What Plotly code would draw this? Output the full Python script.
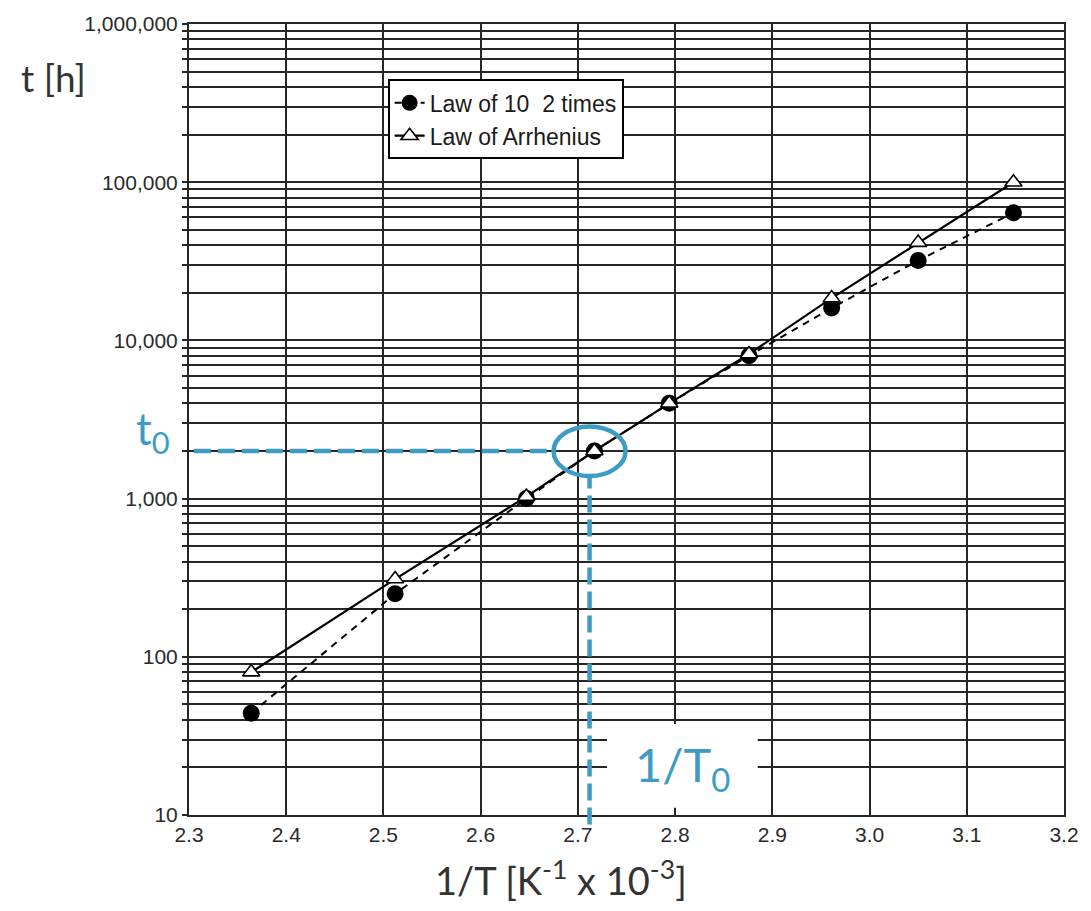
import plotly.graph_objects as go
import numpy as np

# Inverse temperature [1/K x 10^-3]
inv_temp = [2.364, 2.512, 2.647, 2.717, 2.794, 2.876, 2.961, 3.050, 3.148]
# Lifetime t [h] following the "10 degrees / 2 times" rule
law_10_2 = [44, 250, 1000, 2000, 4000, 8000, 16000, 32000, 64000]
# Lifetime t [h] following the Arrhenius law
arrhenius = [80, 310, 1030, 2000, 4000, 8200, 18500, 41500, 100000]

# Reference point highlighted on the chart
t0 = 2000
inv_T0 = 2.712

x_ticks = [2.3, 2.4, 2.5, 2.6, 2.7, 2.8, 2.9, 3.0, 3.1, 3.2]
x_tick_text = ["2.3", "2.4", "2.5", "2.6", "2.7", "2.8", "2.9", "3.0", "3.1", "3.2"]
decades = [10, 100, 1000, 10000, 100000, 1000000]
decade_text = ["10", "100", "1,000", "10,000", "100,000", "1,000,000"]

BLUE = "#3d9cc3"
GRID = "#262626"
TICK_FONT = dict(family="Liberation Sans, Arial, sans-serif", size=21, color="#2a2a2a")
TITLE_FONT = "Lato, 'Open Sans', sans-serif"

fig = go.Figure()

fig.add_trace(go.Scatter(
    x=inv_temp, y=law_10_2, name="Law of 10  2 times",
    mode="lines+markers",
    line=dict(color="black", width=2, dash="7px,6px"),
    marker=dict(symbol="circle", size=17, color="black"),
))
fig.add_trace(go.Scatter(
    x=inv_temp, y=arrhenius, name="Law of Arrhenius",
    mode="lines+markers",
    line=dict(color="black", width=2.2),
    marker=dict(symbol="triangle-up", size=15, color="white",
                line=dict(color="black", width=1.6)),
))

# ellipse around the reference point
ex0, ex1 = inv_T0 - 0.037, inv_T0 + 0.037
ey0, ey1 = t0 / 1.44, t0 * 1.43
shapes = [
    dict(type="circle", xref="x", yref="y", x0=ex0, x1=ex1, y0=ey0, y1=ey1,
         line=dict(color=BLUE, width=4.5), layer="above"),
    # horizontal guide at t0
    dict(type="line", xref="x", yref="y", x0=2.305, x1=ex0, y0=t0, y1=t0,
         line=dict(color=BLUE, width=4.5, dash="17px,7px"), layer="above"),
    # vertical guide at 1/T0, running just past the x axis
    dict(type="line", xref="x", yref="paper", x0=inv_T0, x1=inv_T0,
         y0=-0.012, y1=(np.log10(ey0) - 1) / 5,
         line=dict(color=BLUE, width=4.5, dash="17px,7px"), layer="above"),
    # white panel behind the 1/T0 label
    dict(type="rect", xref="x", yref="y", x0=2.73, x1=2.885, y0=11.1, y1=37.6,
         fillcolor="white", line=dict(width=0), layer="above"),
]

annotations = [
    dict(text="t [h]", xref="paper", yref="paper", x=-0.155, y=0.932,
         xanchor="center", yanchor="middle", showarrow=False,
         font=dict(family=TITLE_FONT, size=37, color="#333333")),
    dict(text="1/T [K<sup>-1</sup> x 10<sup>-3</sup>]", xref="paper", yref="paper",
         x=0.425, y=-0.08, xanchor="center", yanchor="middle", showarrow=False,
         font=dict(family=TITLE_FONT, size=38, color="#333333")),
    dict(text="t<sub>0</sub>", xref="paper", yref="y", x=-0.02, y=np.log10(t0) + 0.12,
         xanchor="right", yanchor="middle", showarrow=False,
         font=dict(family=TITLE_FONT, size=44, color=BLUE)),
    dict(text="1/T<sub>0</sub>", xref="x", yref="y", x=2.808, y=1.3,
         xanchor="center", yanchor="middle", showarrow=False,
         font=dict(family=TITLE_FONT, size=47, color=BLUE)),
]

fig.update_layout(
    width=1091, height=911,
    margin=dict(l=189, r=20, t=15, b=96),
    paper_bgcolor="white", plot_bgcolor="white",
    showlegend=True,
    legend=dict(x=0.227, y=0.93, xanchor="left", yanchor="top",
                bgcolor="white", bordercolor="black", borderwidth=2,
                font=dict(family="Liberation Sans, Arial, sans-serif", size=23, color="#1a1a1a"),
                tracegroupgap=0, itemwidth=30),
    shapes=shapes,
    annotations=annotations,
)

fig.update_xaxes(
    range=[2.3, 3.2], tickvals=x_ticks, ticktext=x_tick_text,
    showgrid=True, gridcolor=GRID, gridwidth=1.8,
    showline=True, linecolor=GRID, linewidth=2, mirror=True,
    ticks="", tickfont=TICK_FONT, zeroline=False,
)
fig.update_yaxes(
    type="log", range=[1, 6], tickvals=decades, ticktext=decade_text,
    showgrid=True, gridcolor=GRID, gridwidth=1.8,
    showline=True, linecolor=GRID, linewidth=2, mirror=True,
    ticks="outside", ticklen=5, tickcolor=GRID, tickwidth=1.8,
    minor=dict(dtick="D1", showgrid=True, gridcolor=GRID, gridwidth=1.8,
               ticks="outside", ticklen=5, tickcolor=GRID, tickwidth=1.8),
    tickfont=TICK_FONT, zeroline=False,
)

fig.write_html("out.html")
